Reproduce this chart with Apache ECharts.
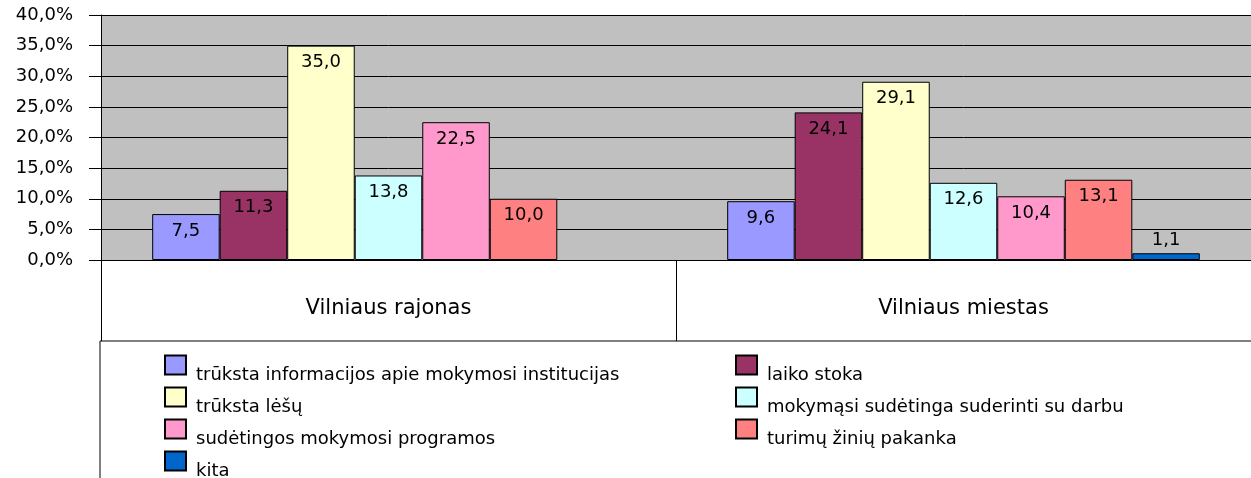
<!DOCTYPE html>
<html>
<head>
<meta charset="UTF-8">
<title>Mokymosi kliūtys</title>
<script src="https://cdn.jsdelivr.net/npm/echarts@6/dist/echarts.min.js"></script>
<style>
  html, body { margin: 0; padding: 0; background: #fff; }
</style>
</head>
<body>
<div id="main" style="width:1251px;height:478px;"></div>
<script>
// duomenys
var categories = ['Vilniaus rajonas', 'Vilniaus miestas'];
var seriesNames = [
  'trūksta informacijos apie mokymosi institucijas',
  'laiko stoka',
  'trūksta lėšų',
  'mokymąsi sudėtinga suderinti su darbu',
  'sudėtingos mokymosi programos',
  'turimų žinių pakanka',
  'kita'
];
var infoData = [7.5, 9.6];
var laikoData = [11.3, 24.1];
var lesuData = [35.0, 29.1];
var darbasData = [13.8, 12.6];
var programosData = [22.5, 10.4];
var ziniuData = [10.0, 13.1];
var kitaData = [null, 1.1];
var yTicks = [0, 5, 10, 15, 20, 25, 30, 35, 40];

var colors = ['#9999FF', '#993366', '#FFFFCC', '#CCFFFF', '#FF99CC', '#FF8080', '#0066CC'];
var allData = [infoData, laikoData, lesuData, darbasData, programosData, ziniuData, kitaData];
var font = '"DejaVu Sans", sans-serif';

var myChart = echarts.init(document.getElementById('main'));

var series = seriesNames.map(function (name, i) {
  return {
    name: name,
    type: 'bar',
    barGap: 0,
    barCategoryGap: '17.8%',
    itemStyle: { color: colors[i], borderColor: '#000', borderWidth: 1 },
    label: {
      show: true,
      position: i === 6 ? 'top' : 'insideTop',
      distance: i === 6 ? 4 : 8,
      color: '#000',
      fontSize: 18,
      fontFamily: font,
      formatter: function (p) { return p.value.toFixed(1).replace('.', ','); }
    },
    data: allData[i]
  };
});

// tekstas legendoje nuleistas žemiau kvadratėlio
var legendText = {
  color: '#000',
  fontSize: 18,
  fontFamily: font,
  rich: {
    t: { color: '#000', fontSize: 18, fontFamily: font, lineHeight: 19, padding: [20, 0, 0, 5] }
  }
};
var legendFmt = function (name) { return '{t|' + name + '}'; };

option = {
  backgroundColor: '#fff',
  animation: false,
  grid: {
    left: 101,
    top: 15,
    right: -8,
    bottom: 218,
    show: true,
    backgroundColor: '#C0C0C0',
    borderWidth: 0
  },
  legend: [
    {
      data: [seriesNames[0], seriesNames[2], seriesNames[4], seriesNames[6]],
      orient: 'vertical',
      left: 100,
      top: 341,
      height: 300,
      padding: [5, 720, 60, 64],
      itemGap: -6,
      itemWidth: 21,
      itemHeight: 19,
      icon: 'rect',
      backgroundColor: '#fff',
      borderColor: '#000',
      borderWidth: 1,
      formatter: legendFmt,
      textStyle: legendText
    },
    {
      data: [seriesNames[1], seriesNames[3], seriesNames[5]],
      orient: 'vertical',
      left: 735,
      top: 346,
      height: 300,
      padding: 0,
      itemGap: -6,
      itemWidth: 21,
      itemHeight: 19,
      icon: 'rect',
      formatter: legendFmt,
      textStyle: legendText
    }
  ],
  xAxis: [
    {
      type: 'category',
      data: categories,
      axisLine: { show: true, lineStyle: { color: '#000', width: 1 } },
      axisTick: { show: true, length: 81, lineStyle: { color: '#000' } },
      axisLabel: { color: '#000', fontSize: 21, fontFamily: font, margin: 38 }
    },
    {
      type: 'category',
      data: categories,
      position: 'bottom',
      offset: 81,
      axisLine: { show: true, lineStyle: { color: '#000', width: 1 } },
      axisTick: { show: false },
      axisLabel: { show: false }
    }
  ],
  yAxis: {
    type: 'value',
    min: yTicks[0],
    max: yTicks[yTicks.length - 1],
    interval: yTicks[1] - yTicks[0],
    axisLine: { show: true, lineStyle: { color: '#000', width: 1 } },
    axisTick: { show: true, length: 12, lineStyle: { color: '#000' } },
    axisLabel: {
      color: '#000',
      fontSize: 18,
      fontFamily: font,
      margin: 28,
      formatter: function (v) { return v.toFixed(1).replace('.', ',') + '%'; }
    },
    splitLine: { show: true, lineStyle: { color: '#000', width: 1 } }
  },
  series: series
};

myChart.setOption(option);
</script>
</body>
</html>
